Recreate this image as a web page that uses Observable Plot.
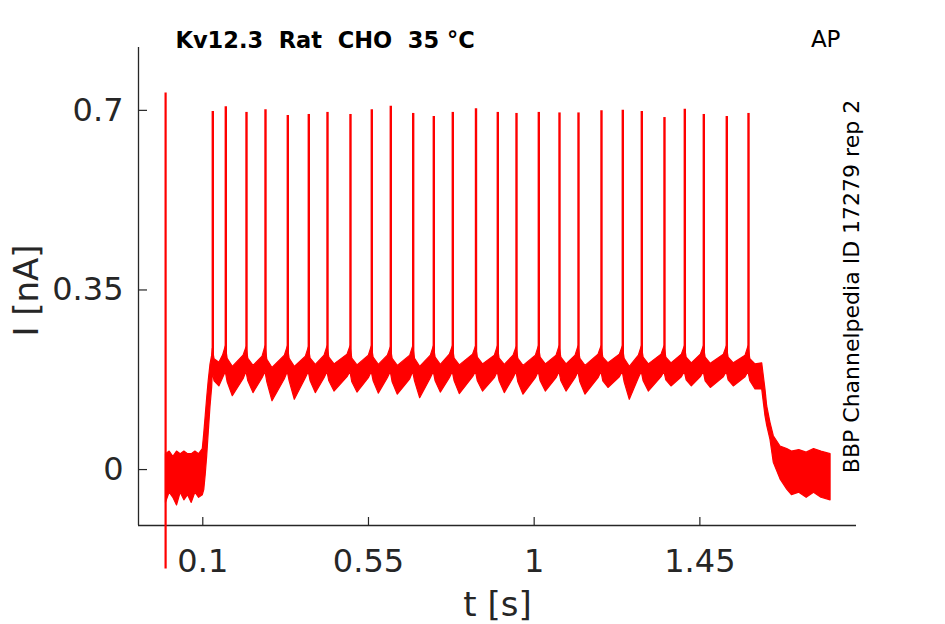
<!DOCTYPE html>
<html>
<head>
<meta charset="utf-8">
<script src="https://cdn.jsdelivr.net/npm/d3@7"></script>
<script src="https://cdn.jsdelivr.net/npm/@observablehq/plot@0.6"></script>
<style>
  html, body { margin: 0; padding: 0; background: #fff; }
  svg text { white-space: pre; }
</style>
</head>
<body>
<div id="chart"></div>
<script>
// ---- Data ----
const titleText = "Kv12.3  Rat  CHO  35 °C";
const cornerText = "AP";
const sideText = "BBP Channelpedia ID 17279 rep 2";
const xLabel = "t [s]";
const yLabel = "I [nA]";

const xTicks = [0.1, 0.55, 1, 1.45];
const xTickLabels = ["0.1", "0.55", "1", "1.45"];
const yTicks = [0, 0.35, 0.7];
const yTickLabels = ["0", "0.35", "0.7"];
const xDomain = [-0.0746, 1.8754];
const yDomain = [-0.109, 0.8225];

// capacitive artifact at stimulus onset
const artifactT = [-0.001];
const artifactMin = [-0.194];
const artifactMax = [0.734];

// action-potential-like current spikes
const spikeT = [0.1272, 0.1625, 0.2187, 0.2703, 0.3309, 0.3879, 0.4387, 0.5011, 0.5590,
  0.6106, 0.6714, 0.7274, 0.7790, 0.8420, 0.9012, 0.9520, 1.0126, 1.0688, 1.1204,
  1.1828, 1.2407, 1.2923, 1.3539, 1.4091, 1.4607, 1.5231, 1.5821];
const spikePeak = [0.698, 0.707, 0.696, 0.701, 0.690, 0.692, 0.696, 0.692, 0.701,
  0.708, 0.694, 0.688, 0.696, 0.703, 0.696, 0.694, 0.696, 0.695, 0.695,
  0.699, 0.700, 0.698, 0.686, 0.702, 0.692, 0.688, 0.694];
const spikeBase = 0.2;

// noisy trace envelope (lower / upper edge of the drawn band)
const bandT = [
  0.000, 0.010, 0.020, 0.030, 0.040, 0.050, 0.060, 0.070, 0.080, 0.090, 0.100,
  0.104, 0.108, 0.112, 0.116, 0.121, 0.1255,
  0.1272, 0.132, 0.145, 0.155,
  0.1625, 0.1675, 0.1815, 0.2107,
  0.2187, 0.2237, 0.2377, 0.2623,
  0.2703, 0.2753, 0.2893, 0.3229,
  0.3309, 0.3359, 0.3499, 0.3799,
  0.3879, 0.3929, 0.4069, 0.4307,
  0.4387, 0.4437, 0.4577, 0.4931,
  0.5011, 0.5061, 0.5201, 0.5510,
  0.5590, 0.5640, 0.5780, 0.6026,
  0.6106, 0.6156, 0.6296, 0.6634,
  0.6714, 0.6764, 0.6904, 0.7194,
  0.7274, 0.7324, 0.7464, 0.7710,
  0.7790, 0.7840, 0.7980, 0.8340,
  0.8420, 0.8470, 0.8610, 0.8932,
  0.9012, 0.9062, 0.9202, 0.9440,
  0.9520, 0.9570, 0.9710, 1.0046,
  1.0126, 1.0176, 1.0316, 1.0608,
  1.0688, 1.0738, 1.0878, 1.1124,
  1.1204, 1.1254, 1.1394, 1.1748,
  1.1828, 1.1878, 1.2018, 1.2327,
  1.2407, 1.2457, 1.2597, 1.2843,
  1.2923, 1.2973, 1.3113, 1.3459,
  1.3539, 1.3589, 1.3729, 1.4011,
  1.4091, 1.4141, 1.4281, 1.4527,
  1.4607, 1.4657, 1.4797, 1.5151,
  1.5231, 1.5281, 1.5421, 1.5741,
  1.5821, 1.5871, 1.6011, 1.6193,
  1.6282, 1.6329, 1.6418, 1.6508, 1.6690, 1.6872,
  1.700, 1.720, 1.740, 1.760, 1.780, 1.805
];
const bandLo = [
  -0.065, -0.045, -0.055, -0.070, -0.045, -0.060, -0.050, -0.065, -0.045, -0.055, -0.050,
  -0.040, -0.010, 0.026, 0.070, 0.123, 0.160,
  0.190, 0.172, 0.162, 0.178,
  0.190, 0.170, 0.143, 0.176,
  0.190, 0.172, 0.149, 0.178,
  0.190, 0.170, 0.133, 0.176,
  0.190, 0.172, 0.136, 0.178,
  0.190, 0.172, 0.149, 0.178,
  0.190, 0.172, 0.152, 0.180,
  0.190, 0.170, 0.150, 0.178,
  0.190, 0.172, 0.148, 0.178,
  0.190, 0.170, 0.146, 0.176,
  0.190, 0.172, 0.139, 0.178,
  0.190, 0.172, 0.150, 0.178,
  0.190, 0.172, 0.147, 0.180,
  0.190, 0.172, 0.152, 0.178,
  0.190, 0.172, 0.149, 0.178,
  0.190, 0.170, 0.146, 0.178,
  0.190, 0.172, 0.152, 0.178,
  0.190, 0.172, 0.152, 0.178,
  0.190, 0.170, 0.146, 0.178,
  0.190, 0.172, 0.159, 0.180,
  0.190, 0.170, 0.136, 0.178,
  0.190, 0.172, 0.152, 0.180,
  0.190, 0.174, 0.162, 0.180,
  0.190, 0.174, 0.162, 0.180,
  0.190, 0.172, 0.159, 0.180,
  0.190, 0.174, 0.162, 0.180,
  0.190, 0.172, 0.156, 0.156,
  0.104, 0.085, 0.058, 0.013, -0.019, -0.039,
  -0.050, -0.045, -0.055, -0.045, -0.055, -0.060
];
const bandHi = [
  0.030, 0.035, 0.025, 0.035, 0.030, 0.035, 0.030, 0.030, 0.035, 0.030, 0.040,
  0.070, 0.105, 0.140, 0.172, 0.205, 0.222,
  0.235, 0.215, 0.208, 0.222,
  0.240, 0.216, 0.200, 0.222,
  0.238, 0.216, 0.202, 0.220,
  0.240, 0.214, 0.198, 0.222,
  0.240, 0.216, 0.200, 0.220,
  0.238, 0.216, 0.204, 0.222,
  0.240, 0.218, 0.205, 0.224,
  0.240, 0.216, 0.203, 0.222,
  0.240, 0.218, 0.204, 0.222,
  0.238, 0.216, 0.202, 0.222,
  0.240, 0.216, 0.200, 0.222,
  0.240, 0.218, 0.204, 0.224,
  0.240, 0.216, 0.203, 0.224,
  0.240, 0.218, 0.205, 0.222,
  0.240, 0.216, 0.204, 0.222,
  0.238, 0.216, 0.202, 0.222,
  0.240, 0.218, 0.205, 0.222,
  0.240, 0.218, 0.205, 0.222,
  0.240, 0.216, 0.202, 0.224,
  0.240, 0.218, 0.207, 0.224,
  0.240, 0.216, 0.200, 0.222,
  0.240, 0.218, 0.205, 0.224,
  0.240, 0.218, 0.207, 0.224,
  0.240, 0.218, 0.207, 0.224,
  0.240, 0.218, 0.206, 0.224,
  0.240, 0.218, 0.207, 0.222,
  0.240, 0.215, 0.205, 0.207,
  0.156, 0.123, 0.091, 0.065, 0.045, 0.040,
  0.035, 0.038, 0.033, 0.040, 0.035, 0.030
];

// ---- Build tables ----
const band = bandT.map((t, i) => ({t, lo: bandLo[i], hi: bandHi[i]}));
const spikes = spikeT.map((t, i) => ({t, base: spikeBase, peak: spikePeak[i]}));
const artifact = artifactT.map((t, i) => ({t, lo: artifactMin[i], hi: artifactMax[i]}));

const ink = "#262626";
const red = "#ff0000";

const chart = Plot.plot({
  width: 945,
  height: 624,
  marginLeft: 138,
  marginRight: 89,
  marginTop: 47,
  marginBottom: 99,
  style: {fontFamily: "DejaVu Sans", color: ink, background: "#fff", overflow: "visible"},
  x: {domain: xDomain, axis: null},
  y: {domain: yDomain, axis: null},
  marks: [
    // axis lines (box off: only left and bottom)
    Plot.ruleX([xDomain[0]], {stroke: ink, strokeWidth: 1.3}),
    Plot.ruleY([yDomain[0]], {stroke: ink, strokeWidth: 1.3}),
    // inward ticks
    Plot.axisX(xTicks, {anchor: "bottom", tickSize: -8, fill: "none", stroke: ink, strokeWidth: 1.2, label: null}),
    Plot.axisY(yTicks, {anchor: "left", tickSize: -9, fill: "none", stroke: ink, strokeWidth: 1.2, label: null}),
    // tick labels
    Plot.axisX(xTicks, {anchor: "bottom", tickSize: 0, tickPadding: 24, fontSize: 32, fill: ink,
      tickFormat: d => xTickLabels[xTicks.indexOf(d)], label: null}),
    Plot.axisY(yTicks, {anchor: "left", tickSize: 0, tickPadding: 15, fontSize: 32, fill: ink,
      tickFormat: d => yTickLabels[yTicks.indexOf(d)], label: null}),
    // axis titles
    Plot.text([xLabel], {frameAnchor: "bottom", textAnchor: "middle", lineAnchor: "bottom", dy: 90, fontSize: 34, fill: ink}),
    Plot.text([yLabel], {frameAnchor: "left", textAnchor: "middle", lineAnchor: "middle", rotate: -90, dx: -111, dy: 4, fontSize: 34, fill: ink}),
    // data
    Plot.areaY(band, {x: "t", y1: "lo", y2: "hi", fill: red, stroke: red, strokeWidth: 1.2, curve: "linear"}),
    Plot.ruleX(spikes, {x: "t", y1: "base", y2: "peak", stroke: red, strokeWidth: 2.4}),
    Plot.ruleX(artifact, {x: "t", y1: "lo", y2: "hi", stroke: red, strokeWidth: 2.2}),
    // annotations
    Plot.text([titleText], {frameAnchor: "top-left", textAnchor: "start", lineAnchor: "bottom", dx: 37, dy: 0,
      fontSize: 22.5, fontWeight: "bold", fill: "#000"}),
    Plot.text([cornerText], {frameAnchor: "top-right", textAnchor: "end", lineAnchor: "bottom", dx: -16, dy: -1,
      fontSize: 23, fill: "#000"}),
    Plot.text([sideText], {frameAnchor: "right", textAnchor: "middle", lineAnchor: "middle", rotate: -90, dx: -5, fontSize: 22, fill: "#000"})
  ]
});
document.getElementById("chart").appendChild(chart);
</script>
</body>
</html>
